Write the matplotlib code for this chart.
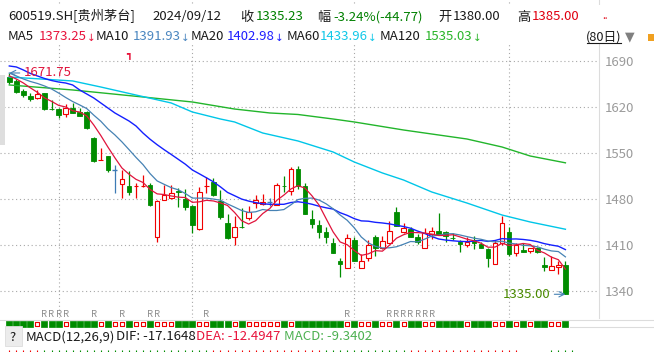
import matplotlib
matplotlib.use("Agg")
import matplotlib.pyplot as plt
from matplotlib.lines import Line2D
from matplotlib.patches import Rectangle
from matplotlib.transforms import blended_transform_factory
import numpy as np

plt.rcParams['font.family'] = ['Noto Sans CJK SC', 'DejaVu Sans']

# daily candles, last 80 sessions (600519.SH)
opens = [1665.6, 1660.0, 1644.3, 1637.2, 1633.7, 1641.3, 1617.5, 1616.9, 1609.3, 1618.5,
         1611.9, 1612.8, 1572.4, 1539.0, 1545.4, 1524.1, 1502.8, 1499.8, 1499.5, 1500.0,
         1501.3, 1422.6, 1478.5, 1481.1, 1491.5, 1479.5, 1469.3, 1433.9, 1499.8, 1506.3,
         1477.4, 1443.9, 1421.7, 1438.0, 1450.6, 1473.9, 1471.9, 1475.0, 1470.9, 1500.5,
         1492.6, 1525.2, 1499.8, 1449.1, 1440.4, 1430.2, 1413.5, 1385.6, 1374.5, 1417.6,
         1374.5, 1389.7, 1421.7, 1405.9, 1413.0, 1460.2, 1430.2, 1433.9, 1421.7, 1405.9,
         1426.7, 1431.3, 1429.3, 1420.6, 1415.0, 1410.0, 1417.6, 1411.1, 1403.9, 1381.1,
         1412.6, 1429.3, 1398.3, 1402.4, 1401.3, 1405.0, 1379.6, 1371.9, 1376.1, 1380.0]
highs = [1671.75, 1662.6, 1647.4, 1640.8, 1645.9, 1642.0, 1630.6, 1618.5, 1624.1, 1626.5,
         1618.0, 1613.9, 1573.6, 1557.1, 1545.4, 1531.7, 1524.1, 1522.6, 1503.9, 1516.5,
         1504.3, 1478.5, 1501.3, 1501.3, 1496.3, 1495.2, 1470.9, 1498.2, 1513.5, 1511.5,
         1493.7, 1457.2, 1454.1, 1465.8, 1469.3, 1486.1, 1487.6, 1481.1, 1503.9, 1515.0,
         1529.1, 1530.2, 1503.9, 1463.2, 1448.0, 1437.8, 1421.1, 1390.2, 1426.3, 1422.6,
         1396.3, 1417.6, 1425.2, 1423.7, 1446.5, 1468.3, 1443.9, 1436.9, 1426.3, 1435.4,
         1436.9, 1459.1, 1431.3, 1427.8, 1417.6, 1422.6, 1423.7, 1415.0, 1405.4, 1417.6,
         1454.1, 1436.9, 1413.5, 1412.6, 1406.0, 1406.9, 1392.2, 1393.2, 1386.1, 1385.0]
lows = [1655.0, 1641.3, 1635.2, 1629.1, 1632.9, 1615.4, 1615.4, 1603.2, 1605.2, 1610.9,
        1606.3, 1586.5, 1536.3, 1539.0, 1521.1, 1489.6, 1481.5, 1486.1, 1482.0, 1498.2,
        1469.3, 1415.0, 1478.5, 1480.0, 1468.3, 1463.2, 1428.7, 1432.8, 1488.7, 1484.6,
        1449.6, 1418.7, 1410.0, 1435.4, 1448.0, 1465.8, 1470.9, 1469.3, 1470.9, 1491.1,
        1486.1, 1494.7, 1456.7, 1435.4, 1421.1, 1412.6, 1397.8, 1361.8, 1374.5, 1385.6,
        1374.5, 1386.1, 1393.7, 1403.4, 1413.0, 1438.9, 1428.2, 1422.2, 1411.5, 1405.9,
        1418.7, 1425.2, 1415.0, 1417.6, 1399.8, 1407.0, 1403.4, 1405.0, 1376.1, 1381.1,
        1410.0, 1393.2, 1393.7, 1399.3, 1397.4, 1397.8, 1370.9, 1371.9, 1365.4, 1335.0]
closes = [1658.0, 1643.3, 1638.2, 1631.7, 1639.8, 1616.5, 1616.9, 1607.8, 1618.9, 1611.3,
          1606.7, 1587.6, 1538.3, 1539.3, 1524.1, 1524.1, 1510.4, 1491.1, 1499.8, 1500.2,
          1471.0, 1476.9, 1486.1, 1488.7, 1491.1, 1468.3, 1440.4, 1490.2, 1500.2, 1486.1,
          1453.1, 1421.1, 1436.9, 1437.8, 1460.7, 1478.5, 1475.0, 1475.0, 1500.8, 1500.2,
          1525.2, 1500.2, 1456.7, 1441.5, 1430.2, 1422.6, 1398.3, 1380.6, 1420.2, 1386.1,
          1385.6, 1410.0, 1405.0, 1416.5, 1431.3, 1438.9, 1436.3, 1422.6, 1415.0, 1427.8,
          1431.3, 1425.2, 1423.7, 1420.2, 1411.5, 1414.1, 1412.6, 1405.0, 1389.7, 1412.6,
          1443.0, 1396.3, 1410.0, 1399.8, 1405.0, 1398.9, 1376.1, 1378.0, 1380.0, 1335.23]

ma5 = [1667.2, 1662.6, 1656.5, 1649.1, 1642.2, 1633.9, 1628.6, 1622.5, 1620.0, 1614.3,
       1612.3, 1606.5, 1592.6, 1576.6, 1559.2, 1542.7, 1527.2, 1517.8, 1509.9, 1505.1,
       1494.5, 1487.8, 1486.8, 1484.6, 1482.8, 1482.2, 1474.9, 1475.7, 1478.0, 1477.0,
       1474.0, 1470.1, 1459.5, 1447.0, 1441.9, 1447.0, 1457.8, 1465.4, 1478.0, 1485.9,
       1495.2, 1500.3, 1496.6, 1484.8, 1470.8, 1450.2, 1429.9, 1414.6, 1410.4, 1401.6,
       1394.2, 1396.5, 1401.4, 1400.6, 1409.7, 1420.3, 1425.6, 1429.1, 1428.8, 1428.1,
       1426.6, 1424.4, 1424.6, 1425.6, 1422.4, 1418.9, 1416.4, 1412.7, 1406.6, 1406.8,
       1412.6, 1409.3, 1410.3, 1412.3, 1410.8, 1402.0, 1398.0, 1391.6, 1387.6, 1373.25]
ma10 = [1671.7, 1667.2, 1662.6, 1658.8, 1655.8, 1652.0, 1647.4, 1641.3, 1634.5, 1628.3,
        1623.1, 1617.6, 1607.6, 1598.3, 1586.8, 1577.5, 1566.9, 1555.2, 1543.3, 1532.2,
        1518.6, 1507.5, 1502.3, 1497.3, 1494.0, 1488.4, 1481.4, 1481.3, 1481.3, 1479.9,
        1478.1, 1472.5, 1467.6, 1462.5, 1459.5, 1460.5, 1464.0, 1462.5, 1462.5, 1463.9,
        1471.1, 1479.1, 1481.0, 1481.4, 1478.4, 1472.7, 1465.1, 1455.6, 1447.6, 1436.2,
        1422.2, 1413.2, 1408.0, 1405.5, 1405.7, 1407.3, 1411.1, 1415.3, 1414.7, 1418.9,
        1423.5, 1425.0, 1426.9, 1427.2, 1425.3, 1422.8, 1420.4, 1418.7, 1416.1, 1414.6,
        1415.8, 1412.9, 1411.5, 1409.5, 1408.8, 1407.3, 1403.7, 1401.0, 1400.0, 1391.93]
ma20 = [1682.4, 1680.9, 1676.3, 1671.0, 1667.2, 1663.4, 1660.3, 1658.0, 1656.5, 1653.5,
        1645.9, 1639.8, 1633.7, 1626.1, 1618.5, 1610.9, 1604.8, 1598.7, 1591.1, 1580.3,
        1570.9, 1562.6, 1555.0, 1547.8, 1540.4, 1533.0, 1524.2, 1518.3, 1512.3, 1506.1,
        1498.4, 1490.0, 1485.0, 1479.9, 1476.8, 1474.5, 1472.7, 1471.9, 1471.9, 1471.9,
        1474.6, 1475.8, 1474.3, 1472.0, 1469.0, 1466.6, 1464.6, 1459.1, 1455.1, 1450.1,
        1446.7, 1446.2, 1444.5, 1443.5, 1442.1, 1440.0, 1438.1, 1435.5, 1431.2, 1427.6,
        1422.9, 1419.1, 1417.5, 1416.4, 1415.5, 1415.1, 1415.8, 1417.0, 1415.4, 1416.8,
        1419.7, 1419.0, 1419.2, 1418.4, 1417.1, 1415.1, 1412.1, 1409.9, 1408.1, 1402.98]
ma60_idx = [0, 9, 13, 18, 23, 26, 30, 32, 36, 41, 46, 49, 53, 56, 60, 65, 70, 74, 79]
ma60 = [1665.6, 1659.6, 1650.4, 1638.2, 1626.1, 1612.4, 1601.7, 1597.2, 1580.4, 1568.3,
        1551.5, 1536.3, 1519.6, 1508.9, 1490.7, 1473.9, 1455.6, 1445.0, 1433.96]
ma120_idx = [0, 9, 19, 26, 32, 37, 41, 46, 49, 56, 60, 65, 70, 74, 79]
ma120 = [1653.5, 1645.9, 1635.2, 1627.6, 1616.9, 1610.9, 1608.6, 1601.7, 1597.2, 1585.0,
         1578.9, 1571.3, 1559.1, 1545.4, 1535.03]

price_ticks = [1340, 1410, 1480, 1550, 1620, 1690]
month_starts = [7, 26, 49, 71]
r_marks = [5, 6, 7, 8, 12, 16, 20, 21, 28, 48, 54, 55, 56, 57, 58, 59, 60]
macd_cols = ("rrrrrggggggggggggggggggggggggrrrrrrrrrrrrrrrr"
             "ggggggggggggrrrrrrrrrrrrrrrr    gggg")

RED = '#f00000'
GREEN = '#008c00'
DOJI = '#3d7ab5'
DARK = '#1a1a1a'

W, H = 654, 352
fig = plt.figure(figsize=(W / 100, H / 100), dpi=100)


def fx(xp):
    return xp / W


def fy(yp):
    return 1 - yp / H


def put(xp, yp, s, color=DARK, size=9.5, ha='left', **kw):
    fig.text(fx(xp), fy(yp), s, color=color, fontsize=size, ha=ha, va='baseline', **kw)


ax = fig.add_axes([0, fy(318), fx(599), 318 / H])
ax.set_xlim(-1.32, 83.77)
ax.set_ylim(1298.9, 1782.8)

x = np.arange(len(closes))
o = np.array(opens)
c = np.array(closes)
hi = np.array(highs)
lo = np.array(lows)
up = c > o
down = c < o
flat = c == o
cols = np.where(up, RED, np.where(down, GREEN, DOJI))

ax.vlines(x, lo, hi, colors=cols, lw=0.9, zorder=3)
ax.bar(x[up], c[up] - o[up], bottom=o[up], width=0.66, facecolor='white',
       edgecolor=RED, lw=0.8, zorder=4)
ax.bar(x[down], o[down] - c[down], bottom=c[down], width=0.66, facecolor=GREEN,
       edgecolor=GREEN, lw=0.6, zorder=4)
ax.hlines(c[flat], x[flat] - 0.35, x[flat] + 0.35, colors=DOJI, lw=1, zorder=4)

ax.plot(ma120_idx, ma120, color='#22b52b', lw=1, zorder=5)
ax.plot(ma60_idx, ma60, color='#00c6e8', lw=1, zorder=5)
ax.plot(x, ma20, color='#1420ff', lw=1, zorder=5)
ax.plot(x, ma10, color='#4682b4', lw=0.9, zorder=5)
ax.plot(x, ma5, color='#e0143c', lw=0.9, zorder=5)

# grid
ax.set_yticks(price_ticks)
ax.set_xticks([])
ax.grid(axis='y', color='#a8a8a8', ls=(0, (1, 2.5)), lw=0.8)
for m in month_starts:
    ax.axvline(m, color='#a8a8a8', ls=(0, (1, 2.5)), lw=0.8, zorder=1)
ax.yaxis.tick_right()
ax.tick_params(axis='y', length=0, pad=4, labelcolor='#9a9a9a', labelsize=9.5)
for s in ['left', 'top', 'bottom']:
    ax.spines[s].set_visible(False)
ax.spines['right'].set_color('#dcdcdc')
ax.spines['right'].set_linewidth(0.8)

# high / low markers
ax.annotate(f"{highs[0]:.2f}", xy=(0, highs[0]), xytext=(10.5, 0), textcoords='offset points',
            ha='left', va='center', color='#e0143c', fontsize=9.5, zorder=6,
            arrowprops=dict(arrowstyle='->', color='#4682b4', lw=0.8, shrinkA=1, shrinkB=0))
ax.annotate(f"{lows[-1]:.2f}", xy=(79, lows[-1]), xytext=(-11, 0), textcoords='offset points',
            ha='right', va='center', color='#4a8a00', fontsize=9.5, zorder=6,
            arrowprops=dict(arrowstyle='->', color='#4682b4', lw=0.8, shrinkA=1, shrinkB=0))

bt = blended_transform_factory(ax.transData, ax.transAxes)
for r in r_marks:
    ax.text(r, 3.5 / 318, 'R', transform=bt, ha='center', va='center',
            fontsize=6.8, color='#8c8c8c', clip_on=False)
ax.text(17, 1700, '┓', ha='center', va='center', fontsize=7, color='#e8143c',
        fontweight='bold', family='DejaVu Sans')

# strip below the price panel
axb = fig.add_axes([0, 0, fx(599), 34 / H])
axb.set_xlim(-1.32, 83.77)
axb.set_ylim(352, 318)
axb.axis('off')
sq_up = ~down
axb.scatter(x[sq_up], np.full(sq_up.sum(), 324), marker='s', s=11, facecolor='white',
            edgecolor=RED, lw=0.8, zorder=3)
axb.scatter(x[down], np.full(down.sum(), 324), marker='s', s=13, facecolor=GREEN,
            edgecolor=GREEN, lw=0.5, zorder=3)
for i, ch in enumerate(macd_cols):
    if ch == 'r':
        axb.vlines(i, 349.5, 352, color=RED, lw=0.8)
    elif ch == 'g':
        axb.vlines(i, 349.5, 352, color=GREEN, lw=0.8)

fig.add_artist(Line2D([0, 1], [fy(319.5)] * 2, color='#dcdcdc', lw=0.8))
fig.add_artist(Line2D([fx(570), 1], [fy(327)] * 2, color='#dcdcdc', lw=0.8))

# header panel
fig.add_artist(Rectangle((0, fy(43)), 1, fy(5) - fy(43), transform=fig.transFigure,
                         facecolor='white', edgecolor='none', zorder=2))
fig.add_artist(Rectangle((0, fy(145)), fx(5), fy(75) - fy(145), transform=fig.transFigure,
                         facecolor='#dedede', edgecolor='none', zorder=2))

put(8, 20.5, "600519.SH[贵州茅台]")
put(152, 20.5, "2024/09/12")
put(240, 20.5, "收")
put(256, 20.5, "1335.23", color='#008000')
put(317, 20.5, "幅")
put(333, 20.5, "-3.24%(-44.77)", color='#008000')
put(438, 20.5, "开")
put(453, 20.5, "1380.00")
put(517, 20.5, "高")
put(532, 20.5, "1385.00", color='#e00010')
put(602, 19, "..", color='#e00010', size=7)

# MA legend row
ma_names = ["MA5", "MA10", "MA20", "MA60", "MA120"]
ma_last = [ma5[-1], ma10[-1], ma20[-1], ma60[-1], ma120[-1]]
ma_cols = ['#e8143c', '#4a86c0', '#1e1eff', '#10c8e8', '#2ab52a']
name_x = [8, 96, 191, 287, 380]
val_x = [39, 133, 227, 320, 425]
for nm, v, col, nx, vx in zip(ma_names, ma_last, ma_cols, name_x, val_x):
    put(nx, 40.5, nm)
    put(vx, 40.5, f"{v:.2f}", color=col)
    put(vx + 47.5, 40.5, "↓", color=col, size=7.5, family='DejaVu Sans')

put(586, 40.5, "(80日)", size=9.2)
fig.add_artist(Line2D([fx(587), fx(621)], [fy(42.5)] * 2, color=DARK, lw=0.8, zorder=3))
put(629.5, 40.5, "▼", color='#808080', size=9, ha='center', family='DejaVu Sans')
fig.add_artist(Rectangle((fx(648), fy(41)), fx(6), fy(34) - fy(41), transform=fig.transFigure,
                         facecolor='#f0a020', edgecolor='none', zorder=2))

# MACD row
fig.add_artist(Rectangle((fx(5), fy(346)), fx(17), fy(326) - fy(346), transform=fig.transFigure,
                         facecolor='#ececec', edgecolor='#dddddd', lw=0.6, zorder=2))
put(9.5, 341, "?")
put(26, 340.5, "MACD(12,26,9)")
put(116, 340.5, "DIF: -17.1648")
put(196, 340.5, "DEA: -12.4947", color='#e8143c')
put(284, 340.5, "MACD: -9.3402", color='#4cb050')

fig.savefig("out.png", dpi=100)
